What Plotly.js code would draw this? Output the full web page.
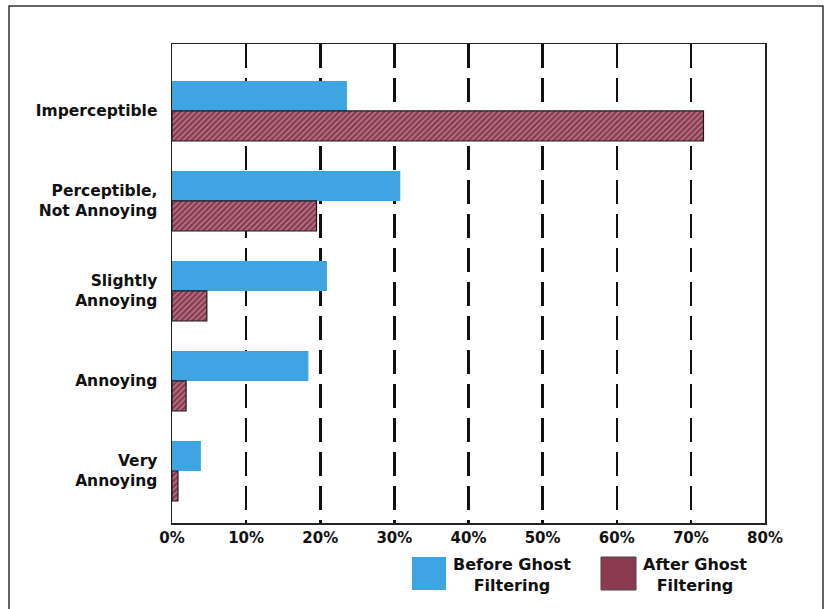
<!DOCTYPE html>
<html>
<head>
<meta charset="utf-8">
<script src="https://cdn.plot.ly/plotly-3.0.1.min.js"></script>
<style>html,body{margin:0;padding:0;background:#fff;}#chart{width:826px;height:609px;}</style>
</head>
<body>
<div id="chart"></div>
<script>
var categories = ["Imperceptible", "Perceptible,<br>Not Annoying", "Slightly<br>Annoying", "Annoying", "Very<br>Annoying"];
var beforeValues = [23.6, 30.8, 20.9, 18.4, 3.9];
var afterValues = [71.7, 19.5, 4.7, 1.9, 0.8];
var tickValues = [0, 10, 20, 30, 40, 50, 60, 70, 80];
var tickLabels = ["0%", "10%", "20%", "30%", "40%", "50%", "60%", "70%", "80%"];
var seriesNames = ["Before Ghost<br>Filtering", "After Ghost<br>Filtering"];

var blue = "rgb(62,164,226)";
var maroon = "rgb(140,58,80)";
var font = "DejaVu Sans, Liberation Sans, Arial, sans-serif";

var traces = [
  {type: "bar", orientation: "h", y: categories, x: beforeValues, name: seriesNames[0],
   marker: {color: blue, line: {width: 0}}, hoverinfo: "x+y"},
  {type: "bar", orientation: "h", y: categories, x: afterValues, name: seriesNames[1],
   marker: {color: maroon, line: {color: "#1a1a1a", width: 1.2},
            pattern: {shape: "/", fgcolor: "rgba(220,190,200,0.6)", bgcolor: maroon, size: 4, solidity: 0.3}},
   hoverinfo: "x+y"}
];

// plot area in pixels: x 172..765, y 44..523
var L = 172, R = 765, T = 44, B = 523, W = 826, H = 609;
function px(x) { return (x - L) / (R - L); }
function py(y) { return (B - y) / (B - T); }

var shapes = [
  {type: "rect", xref: "paper", yref: "paper", x0: px(9), x1: px(823), y0: py(640), y1: py(6),
   line: {color: "#333", width: 1.5}, fillcolor: "rgba(0,0,0,0)", layer: "below"},
  {type: "rect", xref: "paper", yref: "paper", x0: px(412), x1: px(446), y0: py(590), y1: py(557),
   line: {width: 0}, fillcolor: blue},
  {type: "rect", xref: "paper", yref: "paper", x0: px(601), x1: px(636), y0: py(590), y1: py(557),
   line: {color: "#444", width: 1}, fillcolor: maroon}
];

var annotations = [
  {xref: "paper", yref: "paper", x: px(512), y: py(575), text: "<b>" + seriesNames[0] + "</b>",
   showarrow: false, xanchor: "center", yanchor: "middle", align: "center",
   font: {family: font, size: 16, color: "#111"}},
  {xref: "paper", yref: "paper", x: px(695), y: py(575), text: "<b>" + seriesNames[1] + "</b>",
   showarrow: false, xanchor: "center", yanchor: "middle", align: "center",
   font: {family: font, size: 16, color: "#111"}}
];

var layout = {
  width: W, height: H,
  margin: {l: L, r: W - R, t: T, b: H - B, pad: 0},
  paper_bgcolor: "#fff", plot_bgcolor: "#fff",
  showlegend: false,
  barmode: "group", bargap: 0.333, bargroupgap: 0,
  xaxis: {
    range: [0, 80], tickvals: tickValues, ticktext: tickLabels, ticks: "",
    showgrid: true, gridcolor: "#111", gridwidth: 2.5, griddash: "24px,10px",
    zeroline: false, showline: true, linecolor: "#222", linewidth: 1.5, mirror: true,
    tickfont: {family: font, size: 15, color: "#111", weight: "bold"},
    layer: "below traces"
  },
  yaxis: {
    type: "category", range: [4.578, -0.744], showgrid: false, zeroline: false,
    showline: true, linecolor: "#222", linewidth: 1.5, mirror: true, ticks: "",
    ticklabelstandoff: 10,
    tickfont: {family: font, size: 15.5, color: "#111", weight: "bold"}
  },
  shapes: shapes,
  annotations: annotations
};

Plotly.newPlot("chart", traces, layout, {staticPlot: true, displayModeBar: false});
</script>
</body>
</html>
